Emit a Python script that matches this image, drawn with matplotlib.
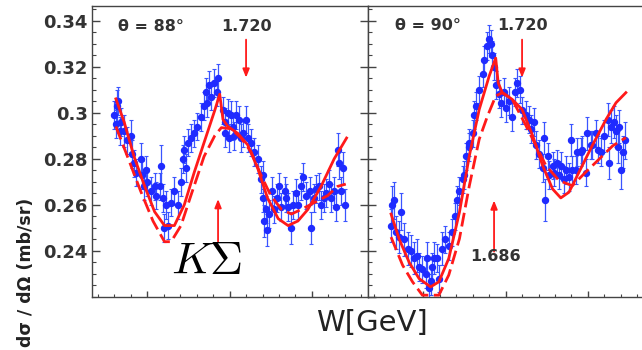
import numpy as np
import matplotlib
matplotlib.use('Agg')
import matplotlib.pyplot as plt
from matplotlib.ticker import MultipleLocator, NullFormatter

plt.rcParams['mathtext.fontset'] = 'cm'

# ---- theta = 88 deg data (W in GeV, dsigma/dOmega in mb/sr)
w_88 = [1.560, 1.562, 1.563, 1.565, 1.567, 1.568, 1.572, 1.575, 1.580, 1.581,
        1.584, 1.586, 1.592, 1.594, 1.596, 1.598, 1.600, 1.605, 1.609, 1.611,
        1.615, 1.617, 1.619, 1.620, 1.623, 1.625, 1.629, 1.633, 1.637, 1.641,
        1.643, 1.645, 1.647, 1.649, 1.653, 1.657, 1.661, 1.665, 1.669, 1.671,
        1.673, 1.675, 1.677, 1.681, 1.685, 1.686, 1.692, 1.694, 1.695, 1.698,
        1.699, 1.702, 1.704, 1.705, 1.708, 1.712, 1.714, 1.716, 1.720, 1.722,
        1.726, 1.730, 1.734, 1.738, 1.740, 1.741, 1.742, 1.744, 1.746, 1.748,
        1.752, 1.754, 1.758, 1.760, 1.763, 1.767, 1.769, 1.771, 1.775, 1.777,
        1.781, 1.783, 1.787, 1.789, 1.793, 1.797, 1.799, 1.803, 1.805, 1.809,
        1.811, 1.815, 1.817, 1.821, 1.823, 1.827, 1.829, 1.831, 1.833, 1.835,
        1.838, 1.840]
ds_88 = [0.299, 0.295, 0.303, 0.305, 0.292, 0.296, 0.292, 0.288, 0.290, 0.282,
         0.278, 0.274, 0.280, 0.273, 0.268, 0.275, 0.270, 0.266, 0.268, 0.264,
         0.268, 0.277, 0.263, 0.250, 0.260, 0.251, 0.261, 0.266, 0.260, 0.270,
         0.280, 0.284, 0.276, 0.287, 0.289, 0.291, 0.294, 0.298, 0.303, 0.309,
         0.304, 0.312, 0.307, 0.313, 0.309, 0.315, 0.301, 0.296, 0.291, 0.300,
         0.289, 0.299, 0.294, 0.290, 0.299, 0.297, 0.289, 0.291, 0.297, 0.289,
         0.287, 0.283, 0.280, 0.271, 0.273, 0.263, 0.253, 0.258, 0.249, 0.256,
         0.266, 0.258, 0.263, 0.268, 0.259, 0.266, 0.263, 0.259, 0.250, 0.260,
         0.265, 0.260, 0.268, 0.272, 0.264, 0.266, 0.250, 0.263, 0.267, 0.268,
         0.260, 0.263, 0.265, 0.269, 0.263, 0.266, 0.259, 0.284, 0.278, 0.266,
         0.276, 0.260]
err_88 = [0.006, 0.006, 0.007, 0.006, 0.006, 0.006, 0.007, 0.006, 0.007, 0.006,
          0.006, 0.006, 0.007, 0.006, 0.006, 0.006, 0.006, 0.006, 0.006, 0.006,
          0.006, 0.009, 0.006, 0.006, 0.006, 0.006, 0.006, 0.006, 0.006, 0.006,
          0.006, 0.006, 0.006, 0.006, 0.006, 0.006, 0.006, 0.006, 0.006, 0.006,
          0.006, 0.006, 0.006, 0.006, 0.006, 0.006, 0.006, 0.006, 0.006, 0.006,
          0.006, 0.006, 0.006, 0.006, 0.006, 0.006, 0.006, 0.006, 0.006, 0.006,
          0.006, 0.006, 0.006, 0.006, 0.006, 0.006, 0.007, 0.006, 0.007, 0.006,
          0.006, 0.006, 0.006, 0.006, 0.006, 0.006, 0.006, 0.006, 0.007, 0.006,
          0.006, 0.006, 0.006, 0.006, 0.006, 0.006, 0.007, 0.006, 0.006, 0.006,
          0.006, 0.006, 0.006, 0.006, 0.006, 0.006, 0.006, 0.007, 0.007, 0.006,
          0.007, 0.007]

# model curves theta = 88
w_88_full = [1.562, 1.572, 1.584, 1.597, 1.609, 1.621, 1.633, 1.645, 1.657, 1.669,
             1.682, 1.688, 1.692, 1.698, 1.710, 1.722, 1.734, 1.746, 1.759, 1.771,
             1.783, 1.795, 1.811, 1.827, 1.842]
m_88_full = [0.306, 0.296, 0.281, 0.268, 0.257, 0.251, 0.251, 0.260, 0.274, 0.287,
             0.301, 0.308, 0.297, 0.294, 0.291, 0.286, 0.276, 0.263, 0.254, 0.251,
             0.253, 0.258, 0.268, 0.280, 0.289]
w_88_dash = [1.562, 1.576, 1.592, 1.607, 1.621, 1.629, 1.641, 1.653, 1.669, 1.682,
             1.690, 1.702, 1.714, 1.726, 1.738, 1.750, 1.763, 1.775, 1.787, 1.803,
             1.819, 1.831, 1.841]
m_88_dash = [0.294, 0.281, 0.266, 0.253, 0.244, 0.244, 0.251, 0.264, 0.281, 0.290,
             0.2935, 0.293, 0.289, 0.283, 0.273, 0.264, 0.258, 0.256, 0.258, 0.261,
             0.264, 0.268, 0.269]

# ---- theta = 90 deg data
w_90 = [1.561, 1.562, 1.565, 1.567, 1.571, 1.573, 1.577, 1.581, 1.585, 1.589,
        1.593, 1.595, 1.599, 1.603, 1.605, 1.607, 1.609, 1.611, 1.613, 1.617,
        1.619, 1.623, 1.627, 1.631, 1.635, 1.639, 1.641, 1.644, 1.648, 1.650,
        1.652, 1.655, 1.656, 1.660, 1.662, 1.664, 1.668, 1.672, 1.674, 1.678,
        1.680, 1.682, 1.684, 1.686, 1.688, 1.692, 1.694, 1.698, 1.700, 1.704,
        1.708, 1.712, 1.714, 1.718, 1.720, 1.725, 1.729, 1.731, 1.735, 1.737,
        1.741, 1.745, 1.747, 1.748, 1.751, 1.753, 1.757, 1.759, 1.763, 1.765,
        1.767, 1.771, 1.773, 1.777, 1.779, 1.781, 1.785, 1.787, 1.791, 1.793,
        1.797, 1.799, 1.804, 1.805, 1.810, 1.812, 1.816, 1.820, 1.824, 1.826,
        1.828, 1.832, 1.834, 1.836, 1.838, 1.840, 1.842, 1.845]
ds_90 = [0.251, 0.260, 0.262, 0.248, 0.246, 0.257, 0.245, 0.241, 0.240, 0.237,
         0.238, 0.233, 0.232, 0.230, 0.237, 0.224, 0.227, 0.233, 0.237, 0.237,
         0.228, 0.241, 0.245, 0.242, 0.248, 0.255, 0.262, 0.266, 0.271, 0.273,
         0.281, 0.285, 0.287, 0.291, 0.299, 0.303, 0.310, 0.317, 0.323, 0.329,
         0.332, 0.330, 0.325, 0.320, 0.312, 0.308, 0.304, 0.309, 0.302, 0.305,
         0.298, 0.309, 0.313, 0.310, 0.301, 0.299, 0.297, 0.293, 0.296, 0.286,
         0.282, 0.276, 0.289, 0.262, 0.281, 0.273, 0.277, 0.274, 0.278, 0.273,
         0.277, 0.271, 0.275, 0.272, 0.288, 0.275, 0.275, 0.283, 0.283, 0.284,
         0.274, 0.291, 0.286, 0.286, 0.291, 0.284, 0.283, 0.290, 0.297, 0.278,
         0.294, 0.296, 0.292, 0.285, 0.294, 0.275, 0.283, 0.288]
err_90 = [0.007, 0.008, 0.008, 0.007, 0.007, 0.008, 0.007, 0.007, 0.007, 0.007,
          0.007, 0.006, 0.006, 0.006, 0.007, 0.006, 0.006, 0.006, 0.007, 0.006,
          0.006, 0.007, 0.006, 0.006, 0.006, 0.006, 0.006, 0.006, 0.006, 0.006,
          0.006, 0.006, 0.006, 0.006, 0.006, 0.006, 0.006, 0.006, 0.006, 0.006,
          0.006, 0.006, 0.006, 0.006, 0.006, 0.006, 0.006, 0.006, 0.006, 0.006,
          0.006, 0.006, 0.006, 0.006, 0.006, 0.006, 0.006, 0.006, 0.006, 0.006,
          0.006, 0.006, 0.007, 0.009, 0.006, 0.006, 0.006, 0.006, 0.006, 0.006,
          0.006, 0.006, 0.006, 0.006, 0.007, 0.006, 0.006, 0.006, 0.006, 0.006,
          0.006, 0.007, 0.006, 0.006, 0.006, 0.006, 0.006, 0.007, 0.007, 0.007,
          0.007, 0.007, 0.007, 0.007, 0.007, 0.008, 0.007, 0.008]

w_90_full = [1.561, 1.571, 1.583, 1.595, 1.609, 1.619, 1.631, 1.644, 1.656, 1.668,
             1.680, 1.688, 1.691, 1.696, 1.708, 1.720, 1.733, 1.745, 1.757, 1.767,
             1.777, 1.789, 1.805, 1.822, 1.834, 1.846]
m_90_full = [0.256, 0.245, 0.235, 0.228, 0.2244, 0.2266, 0.2367, 0.2568, 0.2813, 0.3014,
             0.3158, 0.3237, 0.313, 0.3087, 0.3058, 0.3014, 0.2899, 0.277, 0.2669, 0.263,
             0.2655, 0.2741, 0.2856, 0.2971, 0.3043, 0.3087]
w_90_dash = [1.561, 1.575, 1.587, 1.599, 1.619, 1.631, 1.644, 1.656, 1.668, 1.678,
             1.688, 1.696, 1.708, 1.725, 1.737, 1.749, 1.765, 1.781, 1.797, 1.814,
             1.830, 1.846]
m_90_dash = [0.246, 0.2338, 0.2266, 0.2208, 0.2208, 0.2295, 0.2453, 0.2683, 0.2885, 0.2985,
             0.3072, 0.3087, 0.3058, 0.2942, 0.2856, 0.277, 0.2705, 0.2683, 0.2741, 0.280,
             0.2856, 0.2892]

blue = '#1f2bff'
red = '#ff1a1a'
txt = '#333333'

fig = plt.figure(figsize=(6.42, 3.5), dpi=100)
ax1 = fig.add_axes([92/642, 53/350, 276/642, 291/350])
ax2 = fig.add_axes([368/642, 53/350, 276/642, 291/350])


def draw_panel(ax, w, ds, err, wf, mf, wd, md):
    ax.errorbar(w, ds, yerr=err, fmt='o', color=blue, ecolor='#3a55ff',
                ms=4.3, elinewidth=0.9, capsize=1.3, capthick=0.8, zorder=3)
    ax.plot(wf, mf, '-', color=red, lw=2.0, zorder=4)
    ax.plot(wd, md, '--', color=red, lw=2.0, dashes=(5, 2), zorder=4)
    ax.set_xlim(1.533, 1.868)
    ax.set_ylim(0.2200, 0.3463)
    ax.xaxis.set_major_locator(MultipleLocator(0.1))
    ax.xaxis.set_minor_locator(MultipleLocator(0.02))
    ax.yaxis.set_major_locator(MultipleLocator(0.02))
    ax.yaxis.set_minor_locator(MultipleLocator(0.005))
    ax.xaxis.set_major_formatter(NullFormatter())
    ax.tick_params(which='both', direction='in', colors='#444444', top=False)
    ax.tick_params(axis='x', which='major', length=4.0, width=1)
    ax.tick_params(axis='x', which='minor', length=2.2, width=0.8)
    ax.tick_params(axis='y', which='major', length=5.8, width=1)
    ax.tick_params(axis='y', which='minor', length=2.9, width=0.8)
    for s in ax.spines.values():
        s.set_color('#444444')
        s.set_linewidth(1.0)


draw_panel(ax1, w_88, ds_88, err_88, w_88_full, m_88_full, w_88_dash, m_88_dash)
draw_panel(ax2, w_90, ds_90, err_90, w_90_full, m_90_full, w_90_dash, m_90_dash)

ax1.tick_params(axis='y', right=True, labelsize=13, pad=3, labelcolor=txt)
ax1.set_yticks([0.24, 0.26, 0.28, 0.30, 0.32, 0.34])
ax1.set_yticklabels(['0.24', '0.26', '0.28', '0.3', '0.32', '0.34'], fontweight='bold')
ax2.yaxis.set_major_formatter(NullFormatter())

arrow = dict(arrowstyle='-|>,head_length=0.5,head_width=0.2', color=red, lw=1.3,
             shrinkA=0, shrinkB=0, mutation_scale=10)

# theta = 88 annotations
ax1.text(0.094, 0.928, '\u03b8 = 88\u00b0', transform=ax1.transAxes, fontsize=11.5,
         fontweight='bold', color=txt, ha='left', va='center')
ax1.text(1.720, 0.3373, '1.720', fontsize=11.5, fontweight='bold', color=txt,
         ha='center', va='center')
ax1.annotate('', xy=(1.720, 0.3152), xytext=(1.720, 0.3317), arrowprops=arrow)
ax1.annotate('', xy=(1.686, 0.2625), xytext=(1.686, 0.2440), arrowprops=arrow)
ax1.text(1.6725, 0.2352, r'$K\Sigma$', fontsize=33, color='black',
         ha='center', va='center')

# theta = 90 annotations
ax2.text(0.098, 0.932, '\u03b8 = 90\u00b0', transform=ax2.transAxes, fontsize=11.5,
         fontweight='bold', color=txt, ha='left', va='center')
ax2.text(1.720, 0.3378, '1.720', fontsize=11.5, fontweight='bold', color=txt,
         ha='center', va='center', zorder=2)
ax2.annotate('', xy=(1.720, 0.3152), xytext=(1.720, 0.3317), arrowprops=arrow)
ax2.annotate('', xy=(1.686, 0.2619), xytext=(1.686, 0.2397), arrowprops=arrow)
ax2.text(1.688, 0.2375, '1.686', fontsize=11.5, fontweight='bold', color=txt,
         ha='center', va='center')

fig.text(372/642, 1 - 323/350, 'W[GeV]', fontsize=21, color='#222222',
         ha='center', va='center')
# the original label runs off the bottom edge; keep it whole here
fig.text(26/642, 1 - 347/350, 'd\u03c3 / d\u03a9 (mb/sr)', rotation=90, fontsize=12.5,
         fontweight='bold', color='#222222', ha='center', va='bottom')

fig.savefig('out.png', dpi=100, facecolor='white')
